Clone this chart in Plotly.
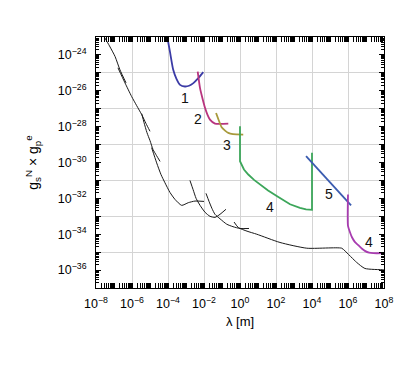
import plotly.graph_objects as go

# ---- data: log10(lambda [m]) and log10(g_s^N * g_p^e) ----
blk_a_lx = [-7.54, -7.25, -6.94, -6.67, -6.33]
blk_a_ly = [-23.0, -23.5, -24.09, -24.83, -25.56]

blk_b_lx = [-6.78, -6.39, -6.02, -5.74, -5.46, -5.22, -5.0]
blk_b_ly = [-24.72, -25.56, -26.32, -26.83, -27.33, -27.83, -28.26]

blk_c_lx = [-5.46, -5.33, -5.17, -5.0, -4.83, -4.64, -4.44]
blk_c_ly = [-27.28, -27.78, -28.33, -28.78, -29.28, -29.61, -29.94]

blk_d_lx = [-4.91, -4.63, -4.39, -4.17, -3.89, -3.61, -3.24, -2.87, -2.5, -2.0]
blk_d_ly = [-29.17, -30.02, -30.67, -31.13, -31.67, -32.06, -32.39, -32.24, -32.15, -32.17]

blk_e_lx = [-2.78, -2.61, -2.44, -2.22, -1.94, -1.67, -1.39, -1.11, -0.78]
blk_e_ly = [-31.0, -31.5, -32.0, -32.39, -32.78, -33.0, -33.06, -32.89, -32.61]

blk_f_lx = [-1.89, -1.72, -1.56, -1.39, -1.11, -0.74, -0.39, 0.0, 0.5]
blk_f_ly = [-31.72, -32.17, -32.56, -32.89, -33.14, -33.44, -33.58, -33.68, -33.68]

blk_g_lx = [-0.33, -0.09, 0.39, 0.93, 2.22, 3.71, 5.65, 5.83, 6.48, 6.94, 7.96, 8.0]
blk_g_ly = [-33.32, -33.63, -33.83, -34.0, -34.46, -34.78, -34.78, -34.93, -35.57, -35.91, -35.98, -35.98]

c1_lx = [-4.04, -3.89, -3.71, -3.53, -3.33, -3.06, -2.83, -2.59, -2.33, -2.04]
c1_ly = [-23.0, -23.83, -24.83, -25.33, -25.67, -25.76, -25.72, -25.57, -25.31, -24.96]

c2_lx = [-2.35, -2.22, -2.08, -1.94, -1.81, -1.67, -1.39, -0.65]
c2_ly = [-24.93, -25.85, -26.44, -26.96, -27.33, -27.61, -27.83, -27.83]

c3_lx = [-1.33, -1.17, -1.02, -0.83, -0.65, -0.39, 0.18]
c3_ly = [-27.24, -27.67, -28.03, -28.22, -28.35, -28.42, -28.44]

c4_lx = [0.0, 0.0, 0.22, 0.46, 0.78, 1.11, 1.56, 2.04, 2.78, 3.33, 3.67, 4.0, 4.0]
c4_ly = [-27.98, -29.93, -30.39, -30.67, -30.97, -31.22, -31.56, -31.87, -32.33, -32.53, -32.61, -32.64, -29.46]

c5_lx = [3.67, 6.17]
c5_ly = [-29.65, -32.39]

c4b_lx = [6.0, 6.0, 6.11, 6.22, 6.39, 6.57, 6.78, 6.94, 7.17, 7.41, 8.0]
c4b_ly = [-31.78, -33.54, -33.89, -34.17, -34.44, -34.61, -34.81, -34.93, -35.03, -35.06, -35.06]

label_text = ["1", "2", "3", "4", "5", "4"]
label_lx = [-3.06, -2.32, -0.74, 1.67, 4.96, 7.18]
label_ly = [-26.4, -27.57, -29.0, -32.46, -31.78, -34.46]

x_tick_exp = [-8, -6, -4, -2, 0, 2, 4, 6, 8]
y_tick_exp = [-36, -34, -32, -30, -28, -26, -24]
y_grid_exp = [-35, -33, -31, -29, -27, -25, -23]

X_RANGE = [-8, 8]
Y_RANGE = [-37, -23]

FONT = "Liberation Sans, Arial, Helvetica, sans-serif"
PAGE_OFFSET = 8  # default body margin of the html page (left and top)


def pow_label(e):
    return "10<sup>" + str(e).replace("-", "\u2212") + "</sup>"


fig = go.Figure()


def add_line(lx, ly, color, width, shape="spline"):
    line = dict(color=color, width=width, shape=shape)
    if shape == "spline":
        line["smoothing"] = 0.6
    fig.add_trace(go.Scatter(
        x=[10 ** v for v in lx], y=[10 ** v for v in ly],
        mode="lines", line=line, hoverinfo="skip", showlegend=False))


for lx, ly in [(blk_a_lx, blk_a_ly), (blk_b_lx, blk_b_ly), (blk_c_lx, blk_c_ly),
               (blk_d_lx, blk_d_ly), (blk_e_lx, blk_e_ly), (blk_f_lx, blk_f_ly),
               (blk_g_lx, blk_g_ly)]:
    add_line(lx, ly, "#1a1a1a", 1.0)

add_line(c1_lx, c1_ly, "#3b3ba6", 1.8)
add_line(c2_lx, c2_ly, "#b8347e", 1.8)
add_line(c3_lx, c3_ly, "#a89a3c", 1.8)
add_line(c4_lx, c4_ly, "#3ca65a", 1.8, shape="linear")
add_line(c5_lx, c5_ly, "#3b5cb0", 1.8, shape="linear")
add_line(c4b_lx, c4b_ly, "#a83cb0", 1.8)

# invisible trace for the secondary (grid) y axis
fig.add_trace(go.Scatter(x=[1e-8], y=[1e-37], mode="markers", marker=dict(opacity=0),
                         hoverinfo="skip", showlegend=False, yaxis="y2"))

for t, lx, ly in zip(label_text, label_lx, label_ly):
    fig.add_annotation(x=lx, y=ly, text=t, showarrow=False,
                       font=dict(family=FONT, size=14, color="#111"))

x_minor = [m * 10 ** k for k in range(-8, 8) for m in range(1, 10)]
y_minor = [m * 10 ** k for k in range(-37, -23) for m in range(2, 10)]

fig.update_layout(
    width=403 - PAGE_OFFSET, height=384 - PAGE_OFFSET,
    margin=dict(l=96 - PAGE_OFFSET, r=19, t=37 - PAGE_OFFSET, b=96),
    paper_bgcolor="white", plot_bgcolor="white",
    font=dict(family=FONT, size=12, color="black"),
    xaxis=dict(type="log", range=X_RANGE, automargin=False,
               tickmode="array",
               tickvals=[10 ** e for e in x_tick_exp],
               ticktext=[pow_label(e) for e in x_tick_exp], tickangle=0,
               showgrid=True, gridcolor="#d4d4d4", gridwidth=1,
               ticks="inside", ticklen=5, tickcolor="black", tickwidth=1,
               showline=True, linecolor="black", linewidth=1, mirror="allticks",
               zeroline=False, ticklabelstandoff=4,
               tickfont=dict(size=12.5),
               minor=dict(tickmode="array", tickvals=x_minor, ticks="inside", ticklen=3,
                          tickcolor="black", showgrid=False),
               title=dict(text="λ [m]", font=dict(size=13), standoff=6)),
    yaxis=dict(type="log", range=Y_RANGE, automargin=False,
               tickmode="array",
               tickvals=[10 ** e for e in y_tick_exp],
               ticktext=[pow_label(e) for e in y_tick_exp],
               showgrid=False,
               ticks="inside", ticklen=5, tickcolor="black", tickwidth=1,
               showline=True, linecolor="black", linewidth=1, mirror="allticks",
               zeroline=False, ticklabelstandoff=6,
               tickfont=dict(size=12.5),
               minor=dict(tickmode="array", tickvals=y_minor, ticks="inside", ticklen=3,
                          tickcolor="black", showgrid=False),
               title=dict(text="g<sub>s</sub><sup>N</sup> × g<sub>p</sub><sup>e</sup>",
                          font=dict(size=14))),
    yaxis2=dict(type="log", range=Y_RANGE, overlaying="y", side="left", automargin=False,
                tickmode="array",
                tickvals=[10 ** e for e in y_grid_exp], showticklabels=False,
                showgrid=True, gridcolor="#d4d4d4", gridwidth=1,
                ticks="inside", ticklen=5, tickcolor="black", mirror="allticks",
                showline=False, zeroline=False),
)

fig.write_html("out.html")
